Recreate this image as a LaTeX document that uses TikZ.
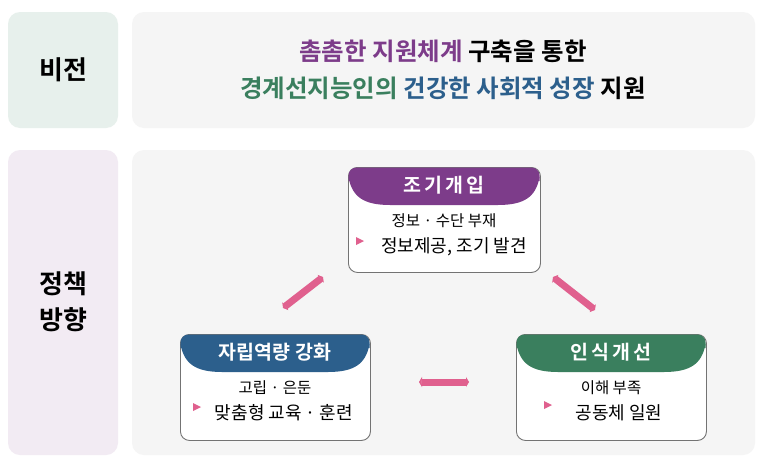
\documentclass[tikz,border=0pt]{standalone}
\usepackage{fontspec}
\setmainfont{Noto Sans CJK KR}
\newfontfamily\bfk{Noto Sans CJK KR Bold}
\usetikzlibrary{arrows.meta}
\definecolor{cpur}{HTML}{7D3C8A}
\definecolor{cblu}{HTML}{2C5F8C}
\definecolor{cgrn}{HTML}{3A7F5E}
\definecolor{cpink}{HTML}{E0608E}
\tikzset{x=1pt,y=-1pt,
 panel/.style={fill=black!4,rounded corners=12pt},
 card/.style={draw=black!55,line width=0.9pt,fill=white,rounded corners=9pt},
 link/.style={cpink,line width=7pt,{Triangle[length=3pt,width=10pt]}-{Triangle[length=3pt,width=10pt]}},
 tri/.style={cpink,fill=cpink}}
\newcommand\card[6]{% x1 y1 x2 y2 color name
 \node[card,minimum width=#3-#1,minimum height=#4-#2,anchor=north west] (#6) at (#1,#2) {};
 \fill[#5,rounded corners=8pt] (#1+0.5,#2+14) -- (#1+0.5,#2+0.5) -- (#3-0.5,#2+0.5) -- (#3-0.5,#2+14);
 \fill[#5] (#1+0.5,#2+10) -- (#3-0.5,#2+10) .. controls (#3-4,#2+30) and (#3-16,#2+38) .. (#3-42,#2+38) -- (#1+42,#2+38) .. controls (#1+16,#2+38) and (#1+4,#2+30) .. (#1+0.5,#2+10) -- cycle;}
\begin{document}
\begin{tikzpicture}
\useasboundingbox (0,0) rectangle (765,466);
\fill[white] (0,0) rectangle (765,466);
\fill[panel,fill=cgrn!12] (8,12) rectangle (118,128);
\fill[panel] (132,12) rectangle (755,128);
\fill[panel,fill=cpur!10] (8,150) rectangle (118,455);
\fill[panel] (132,150) rectangle (755,455);
\node[font=\bfk\fontsize{26}{30}\selectfont] (vis) at (63,70) {비전};
\node[font=\bfk\fontsize{26}{36}\selectfont,align=center] (pol) at (63,302) {정책\\방향};
\node[font=\bfk\fontsize{24.5}{28}\selectfont] (t1) at (443,51) {\textcolor{cpur}{촘촘한 지원체계} 구축을 통한};
\node[font=\bfk\fontsize{24.5}{28}\selectfont] (t2) at (443,88) {\textcolor{cgrn}{경계선지능인의} \textcolor{cblu}{건강한 사회적 성장} 지원};
\card{348}{167}{540}{272}{cpur}{c1}
\card{180}{334}{370}{440}{cblu}{c2}
\card{516}{334}{706}{440}{cgrn}{c3}
\node[white,font=\bfk\fontsize{19.5}{22}\selectfont] (h1) at (444,185) {조\,기\,개\,입};
\node[white,font=\bfk\fontsize{19.5}{22}\selectfont] (h2) at (275,352) {자립역량 강화};
\node[white,font=\bfk\fontsize{19.5}{22}\selectfont] (h3) at (611,352) {인\,식\,개\,선};
\node[font=\fontsize{15.5}{18}\selectfont] (a1) at (444,221) {정보 · 수단 부재};
\node[font=\fontsize{18}{20}\selectfont] (b1) at (454,247) {정보제공, 조기 발견};
\node[font=\fontsize{15.5}{18}\selectfont] (a2) at (275,388) {고립 · 은둔};
\node[font=\fontsize{18}{20}\selectfont] (b2) at (284,413) {맞춤형 교육 · 훈련};
\node[font=\fontsize{15.5}{18}\selectfont] (a3) at (611,388) {이해 부족};
\node[font=\fontsize{18}{20}\selectfont] (b3) at (619,413) {공동체 일원};
\fill[tri] (356,237)--(364,241)--(356,245)--cycle;
\fill[tri] (193,403)--(201,407)--(193,411)--cycle;
\fill[tri] (544,401)--(552,405)--(544,409)--cycle;
\coordinate (p1) at (283,308); \coordinate (p2) at (323,277);
\coordinate (q1) at (553,277); \coordinate (q2) at (595,310);
\coordinate (r1) at (419,382); \coordinate (r2) at (469,382);
\draw[link] (p1)--(p2);
\draw[link] (q1)--(q2);
\draw[link] (r1)--(r2);
\end{tikzpicture}
\end{document}
